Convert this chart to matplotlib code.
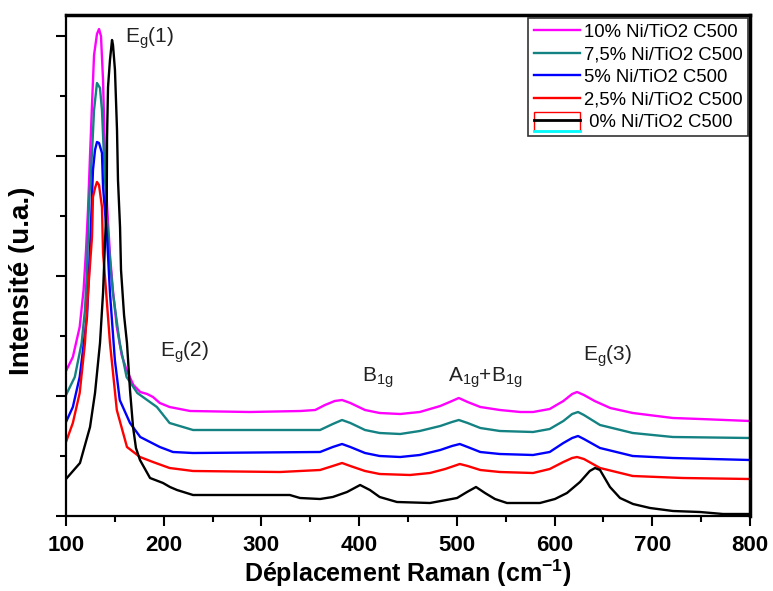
import matplotlib
matplotlib.use("Agg")
import matplotlib.pyplot as plt
from matplotlib.legend_handler import HandlerBase
from matplotlib.patches import Rectangle
from matplotlib.lines import Line2D
from matplotlib.ticker import MultipleLocator, NullFormatter

# ---------------- data (Raman shift in cm-1, intensity in arbitrary units) ----------------
x_10 = [100, 107, 114, 118, 120.5, 122.5, 124.6, 126.6, 128.7, 131.7, 133.8, 135.8, 137.9, 140, 142, 145, 148,
        152, 157, 162, 169, 176, 183, 189, 196, 206, 227, 288, 340, 355, 365, 375, 382.5, 391, 406, 421, 442,
        462, 483, 495, 502, 511, 524, 544, 565, 578, 595, 609, 618, 623, 630, 641, 657, 680, 721, 749, 800]
y_10 = [145, 159, 189, 226, 266, 306, 361, 411, 461, 482, 487, 480, 436, 356, 311, 261, 226,
        189, 161, 146, 131, 124, 122, 119, 113, 109, 105, 104, 105, 106, 111, 115, 116, 113, 106, 103, 102,
        104, 110, 115, 118, 114, 109, 106, 104, 104, 107, 115, 122, 124, 121, 115, 108, 103, 98, 97, 95]

x_75 = [100, 109, 116, 119.4, 121.5, 123.5, 126.6, 128.7, 131.7, 134.8, 136.8, 139, 142, 145, 148, 155, 162,
        173, 183, 193, 206, 230, 360, 373, 382.5, 391, 406, 421, 442, 462, 483, 495, 502, 511, 524, 544, 578,
        595, 609, 618, 624, 630, 646.5, 680, 721, 800]
y_75 = [121, 139, 173, 206, 246, 313, 363, 406, 433, 428, 406, 356, 296, 256, 223, 173, 139,
        123, 116, 109, 93, 86, 86, 92, 96, 93, 86, 83, 82, 85, 90, 94, 96, 93, 88, 85, 84,
        87, 95, 102, 104, 101, 91, 83, 79, 78]

x_5 = [100, 107, 114, 121.5, 124.6, 127.6, 129.7, 131.7, 133.8, 136.8, 137.9, 142, 145, 150, 155, 165.5, 176,
       186, 196, 209.5, 230, 360, 373, 382.5, 391, 406, 421, 442, 462, 483, 495, 503, 511, 524, 544, 578, 595,
       609, 618, 624, 630, 646.5, 680, 721, 800]
y_5 = [94, 109, 139, 199, 266, 346, 366, 374, 373, 363, 329, 279, 223, 156, 116, 93, 79,
       74, 69, 64, 63, 64, 69, 72, 69, 63, 60, 59, 61, 66, 70, 72, 69, 64, 62, 61, 64,
       73, 78, 80, 77, 68, 60, 58, 56]

x_25 = [100, 107, 114, 119.4, 122.5, 126.6, 127.6, 129.7, 131.7, 133.8, 136.8, 137.9, 139.9, 145, 152, 162.4,
        175.7, 189, 206, 230, 319, 360, 373, 382.5, 391, 406, 421, 452, 472.5, 488, 503, 511, 524, 544, 578,
        595, 609, 618, 623, 630, 646.5, 680, 731, 800]
y_25 = [74, 93, 123, 173, 223, 279, 319, 328, 334, 331, 309, 263, 239, 173, 106, 69,
        59, 54, 48, 45, 44, 46, 50, 53, 50, 45, 42, 41, 43, 47, 52, 50, 46, 44, 43,
        47, 54, 58, 59, 57, 48, 40, 38, 37]

x_0 = [100, 114.3, 124.6, 129.7, 134.8, 137.9, 139.4, 141.7, 142, 143, 145, 147.1, 148.1, 150.1, 152.2, 153.2,
       155.3, 156.3, 159.4, 162.4, 165.5, 168.6, 171.6, 175.7, 186, 199.3, 206.4, 213.6, 230, 329, 339.5, 360,
       373, 387.6, 401, 411, 421, 438.7, 472.5, 500.2, 510.4, 519.6, 528.8, 539, 551.3, 585, 600.4, 612.7,
       626, 636, 641.4, 646.5, 656.7, 667, 680.3, 697.7, 721.2, 748.8, 772.4, 800]
y_0 = [37, 53, 89, 123, 173, 223, 261, 316, 379, 429, 456, 476, 471, 446, 386, 336,
       289, 246, 201, 173, 126, 89, 68, 56, 38, 33, 29, 26, 21, 21, 18, 17,
       19, 24, 31, 26, 19, 14, 13, 18, 24, 29, 23, 17, 13, 13, 17, 23,
       34, 45, 48, 46, 29, 18, 12, 8, 5, 4, 2, 2]

series = [
    ("10% Ni/TiO2 C500", x_10, y_10, "#ff00ff"),
    ("7,5% Ni/TiO2 C500", x_75, y_75, "#148282"),
    ("5% Ni/TiO2 C500", x_5, y_5, "#0000ff"),
    ("2,5% Ni/TiO2 C500", x_25, y_25, "#ff0000"),
    (" 0% Ni/TiO2 C500", x_0, y_0, "#000000"),
]

peak_labels = [r"E$_\mathregular{g}$(1)", r"E$_\mathregular{g}$(2)", r"B$_\mathregular{1g}$",
               r"A$_\mathregular{1g}$+B$_\mathregular{1g}$", r"E$_\mathregular{g}$(3)"]
peak_label_x = [160, 196, 403, 491, 629]
peak_label_y = [478, 164, 138, 138, 160]

# ---------------- styling ----------------
plt.rcParams['font.family'] = ['Liberation Sans', 'DejaVu Sans']
plt.rcParams['mathtext.fontset'] = 'custom'
plt.rcParams['mathtext.rm'] = 'Liberation Sans'
plt.rcParams['mathtext.bf'] = 'Liberation Sans:bold'
plt.rcParams['mathtext.default'] = 'regular'

fig = plt.figure(figsize=(7.73, 5.91), dpi=100)
ax = fig.add_axes([66/773, 1-516/591, (750-66)/773, (516-15)/591])

for label, xs, ys, col in series:
    ax.plot(xs, ys, color=col, lw=1.7, label=label)

for t, tx, ty in zip(peak_labels, peak_label_x, peak_label_y):
    ax.text(tx, ty, t, fontsize=15, ha='left', va='center', color='#222222')

ax.set_xlim(100, 800)
ax.set_ylim(0, 501)
ax.xaxis.set_major_locator(MultipleLocator(100))
ax.xaxis.set_minor_locator(MultipleLocator(50))
ax.yaxis.set_major_locator(MultipleLocator(120))
ax.yaxis.set_minor_locator(MultipleLocator(60))
ax.yaxis.set_major_formatter(NullFormatter())
ax.tick_params(axis='both', which='major', direction='out', length=7, width=1.5)
ax.tick_params(axis='both', which='minor', direction='out', length=4, width=1.5)
ax.tick_params(axis='x', labelsize=16, pad=7)
for lbl in ax.get_xticklabels():
    lbl.set_fontweight('bold')
for sp in ax.spines.values():
    sp.set_linewidth(1.6)
ax.spines['top'].set_linewidth(2.5)
ax.spines['right'].set_linewidth(2.5)

ax.set_xlabel(r"Déplacement Raman (cm$^{\mathbf{-1}}$)", fontsize=18, fontweight='bold')
ax.xaxis.set_label_coords(0.5, -0.084)
ax.set_ylabel("Intensité (u.a.)", fontsize=20, fontweight='bold')
ax.yaxis.set_label_coords(-0.046, 0.47)


class ZeroHandler(HandlerBase):
    def create_artists(self, legend, orig_handle, xdescent, ydescent, width, height, fontsize, trans):
        x0 = -xdescent
        y0 = -ydescent
        rect = Rectangle((x0, y0 - 0.35 * height), width, height * 1.45, facecolor='white',
                         edgecolor='red', lw=1.0, transform=trans)
        black = Line2D([x0, x0 + width], [y0 + 0.5 * height] * 2, color='black', lw=2, transform=trans)
        cyan = Line2D([x0, x0 + width], [y0 - 0.35 * height] * 2, color='cyan', lw=2, transform=trans)
        return [rect, black, cyan]


handles, labels = ax.get_legend_handles_labels()
leg = ax.legend(handles, labels, loc='upper right',
                bbox_to_anchor=(748/773, 1-18/591), bbox_transform=fig.transFigure,
                borderaxespad=0, fontsize=13.3, frameon=True, fancybox=False,
                edgecolor='black', handlelength=2.5, handletextpad=0.2, labelspacing=0.3,
                borderpad=0.3, handler_map={handles[-1]: ZeroHandler()})
leg.get_frame().set_linewidth(1.2)

fig.savefig("out.png", dpi=100)
